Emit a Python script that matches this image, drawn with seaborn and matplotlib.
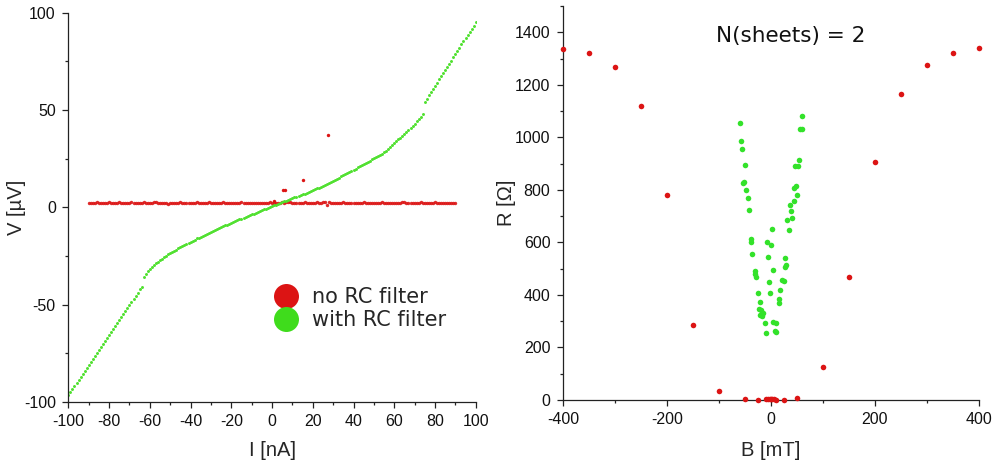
import matplotlib
matplotlib.use("Agg")
import matplotlib.pyplot as plt
from matplotlib.ticker import MultipleLocator
from matplotlib.lines import Line2D
import numpy as np
import seaborn as sns

# ---------------- I-V curves (left panel) ----------------
# current sweep for the filtered measurement, -100 .. 100 nA in 1 nA steps
current_rc = np.arange(-100, 101, 1)
voltage_rc = [
    -96.5, -95.0, -93.4, -91.9, -90.3, -88.8, -87.2, -85.6, -84.1, -82.6,
    -81.0, -79.5, -77.9, -76.4, -74.8, -73.2, -71.7, -70.2, -68.6, -67.0,
    -65.5, -64.0, -62.4, -60.9, -59.3, -57.8, -56.2, -54.6, -53.1, -51.5,
    -50.0, -48.5, -46.9, -45.3, -43.8, -42.2, -40.7, -35.8, -34.3, -32.9,
    -31.5, -30.6, -29.7, -28.8, -27.9, -27.0, -26.3, -25.6, -24.9, -24.2,
    -23.5, -22.9, -22.3, -21.7, -21.1, -20.5, -19.9, -19.3, -18.8, -18.2,
    -17.6, -17.1, -16.6, -16.0, -15.5, -15.0, -14.5, -14.0, -13.5, -13.0,
    -12.5, -12.0, -11.6, -11.1, -10.7, -10.2, -9.8, -9.3, -8.9, -8.4,
    -8.0, -7.6, -7.1, -6.7, -6.2, -5.8, -5.4, -4.9, -4.5, -4.0,
    -3.6, -3.2, -2.8, -2.3, -1.9, -1.5, -1.1, -0.7, -0.2, 0.2,
    0.6, 1.0, 1.4, 1.9, 2.3, 2.7, 3.1, 3.5, 3.9, 4.3,
    4.7, 5.1, 5.5, 5.9, 6.3, 6.7, 7.1, 7.5, 8.0, 8.4,
    8.8, 9.2, 9.7, 10.1, 10.5, 11.0, 11.5, 12.0, 12.5, 13.1,
    13.6, 14.2, 14.8, 15.3, 15.9, 16.5, 17.1, 17.6, 18.2, 18.7,
    19.3, 19.9, 20.5, 21.0, 21.6, 22.2, 22.8, 23.4, 24.0, 24.6,
    25.2, 25.8, 26.4, 26.9, 27.6, 28.3, 29.2, 30.1, 31.0, 32.0,
    33.0, 33.9, 34.9, 35.8, 36.8, 37.8, 38.8, 39.9, 40.9, 42.0,
    43.0, 44.2, 45.4, 46.6, 47.8, 54.3, 55.9, 57.5, 59.1, 60.8,
    62.5, 64.1, 65.7, 67.3, 68.9, 70.5, 72.1, 73.8, 75.4, 77.1,
    78.8, 80.4, 82.1, 83.7, 85.3, 86.9, 88.5, 90.1, 91.7, 93.3,
    95.0,
]

# current sweep without the filter, -90 .. 90 nA in 1 nA steps
current_raw = np.arange(-90, 91, 1)
voltage_raw = [
    2.3, 2.1, 2.4, 2.2, 2.5, 2.3, 2.0, 2.4, 2.2, 2.3,
    2.6, 2.2, 2.1, 2.4, 2.3, 2.5, 2.2, 2.0, 2.3, 2.4,
    2.2, 2.6, 2.3, 2.1, 2.4, 2.2, 2.3, 2.5, 2.1, 2.2,
    2.4, 2.3, 2.7, 2.5, 2.2, 2.1, 2.3, 2.4, 2.0, 1.9,
    2.2, 2.3, 2.1, 2.4, 2.2, 2.5, 2.3, 2.2, 2.4, 2.1,
    2.3, 2.2, 2.4, 2.6, 2.3, 2.1, 2.2, 2.4, 2.3, 2.5,
    2.2, 2.1, 2.3, 2.4, 2.2, 2.3, 2.5, 2.2, 2.0, 2.3,
    2.4, 2.2, 2.3, 2.1, 2.4, 2.5, 2.3, 2.2, 2.4, 2.1,
    2.3, 2.2, 2.4, 2.3, 2.1, 2.2, 2.4, 2.3, 2.2, 2.5,
    2.3, 2.1, 2.4, 2.2, 2.3, 2.6, 2.4, 2.7, 2.9, 2.5,
    2.3, 2.2, 2.4, 2.1, 2.3, 2.2, 2.5, 2.3, 2.1, 2.4,
    2.2, 2.3, 2.5, 2.2, 2.4, 2.6, 2.8, 1.2, 2.5, 2.3,
    2.2, 2.4, 2.1, 2.3, 2.2, 2.5, 2.3, 2.1, 2.4, 2.2,
    2.3, 2.4, 2.2, 2.1, 2.3, 2.5, 2.2, 2.4, 2.3, 2.1,
    2.2, 2.4, 2.3, 2.2, 2.5, 2.3, 2.1, 2.4, 2.2, 2.3,
    2.4, 2.2, 2.1, 2.3, 2.5, 2.6, 2.4, 2.2, 2.3, 2.1,
    2.2, 2.4, 2.3, 2.5, 2.2, 2.1, 2.3, 2.4, 2.2, 2.3,
    2.5, 2.2, 2.1, 2.4, 2.3, 2.2, 2.4, 2.3, 2.1, 2.2,
    2.3,
]
# isolated spikes in the unfiltered sweep
spike_current = [1.0, 5.5, 6.5, 15.0, 27.5]
spike_voltage = [3.5, 9.0, 8.7, 14.0, 37.0]

# ---------------- magnetoresistance (right panel) ----------------
field_raw = [-400, -350, -300, -250, -200, -150, -100, -50, -25, -10, -5, -2,
             0, 2, 5, 10, 25, 50, 100, 150, 200, 250, 300, 350, 400]
resist_raw = [1335, 1320, 1266, 1121, 780, 286, 34, 2, 1, 2, 3, 4,
              5, 3, 2, 1, 1, 7, 126, 470, 905, 1165, 1277, 1320, 1340]

field_rc = [
    -59.5, -57.6, -55.0, -50.0, -53.0, -51.2, -47.4, -43.5, -41.6, -39.0,
    -37.8, -35.8, -31.4, -30.0, -28.0, -25.0, -21.8, -23.7, -19.8, -21.0,
    -17.3, -15.4, -11.5, -10.0,
    2.0, -7.7, 0.0, -6.4, 3.8, -4.5, -2.0, 4.5, 9.6, 8.3, 10.0,
    59.0, 56.3, 59.5, 54.4, 46.0, 52.5, 47.4, 43.5, 50.0, 44.0,
    36.5, 38.4, 40.3, 31.4, 34.6, 26.2, 29.4, 27.5, 20.5, 24.3,
    17.9, 14.7, 16.0,
]
resist_rc = [
    1055, 986, 956, 893, 825, 830, 800, 769, 722, 602,
    613, 555, 490, 481, 468, 408, 374, 346, 342, 325,
    321, 333, 294, 256,
    652, 602, 589, 545, 494, 448, 407, 298, 293, 263, 258,
    1083, 1033, 1031, 915, 892, 892, 815, 806, 780, 759,
    742, 720, 694, 687, 649, 541, 513, 505, 458, 454,
    420, 384, 369,
]

RED = "#dc1414"
GREEN = "#3fdc1c"
GREEN_DOT = "#4fe02e"

sns.set_style("white")
plt.rcParams["font.family"] = ["Liberation Sans", "DejaVu Sans"]
plt.rcParams["axes.unicode_minus"] = False

fig = plt.figure(figsize=(9.95, 4.65), dpi=100)
ax1 = fig.add_axes([0.0687, 0.1355, 0.4094, 0.8372])
ax2 = fig.add_axes([0.5658, 0.1398, 0.4181, 0.8473])

# left panel
sns.scatterplot(x=current_raw, y=voltage_raw, ax=ax1, color=RED, s=6,
                linewidth=0, alpha=0.9)
sns.scatterplot(x=spike_current, y=spike_voltage, ax=ax1, color=RED, s=6,
                linewidth=0)
sns.scatterplot(x=current_rc, y=voltage_rc, ax=ax1, color=GREEN_DOT, s=4.5,
                linewidth=0)
ax1.set_xlim(-100, 100)
ax1.set_ylim(-100, 100)
ax1.xaxis.set_major_locator(MultipleLocator(20))
ax1.xaxis.set_minor_locator(MultipleLocator(10))
ax1.yaxis.set_major_locator(MultipleLocator(50))
ax1.yaxis.set_minor_locator(MultipleLocator(25))
ax1.set_xlabel("I [nA]", fontsize=14.5)
ax1.set_ylabel("V [\u00b5V]", fontsize=14.5)
ax1.xaxis.set_label_coords(0.5, -0.10)
ax1.yaxis.set_label_coords(-0.105, 0.5)

handles = [
    Line2D([], [], linestyle="none", marker="o", markersize=18,
           markerfacecolor=RED, markeredgewidth=0),
    Line2D([], [], linestyle="none", marker="o", markersize=18,
           markerfacecolor=GREEN, markeredgewidth=0),
]
ax1.legend(handles, ["no RC filter", "with RC filter"], loc="center left",
           bbox_to_anchor=(0.504, 0.240), frameon=False, handlelength=1.2,
           handletextpad=0.65, labelspacing=0.15, borderpad=0,
           borderaxespad=0, prop={"family": "DejaVu Sans", "size": 15})

# right panel
sns.scatterplot(x=field_raw, y=resist_raw, ax=ax2, color=RED, s=16,
                linewidth=0, clip_on=False, zorder=3)
sns.scatterplot(x=field_rc, y=resist_rc, ax=ax2, color="#33e22a", s=16,
                linewidth=0, zorder=3)
ax2.set_xlim(-400, 400)
ax2.set_ylim(0, 1500)
ax2.xaxis.set_major_locator(MultipleLocator(200))
ax2.xaxis.set_minor_locator(MultipleLocator(100))
ax2.yaxis.set_major_locator(MultipleLocator(200))
ax2.yaxis.set_minor_locator(MultipleLocator(100))
ax2.set_xlabel("B [mT]", fontsize=14.5)
ax2.set_ylabel("R [\u03a9]", fontsize=14.5)
ax2.xaxis.set_label_coords(0.5, -0.105)
ax2.yaxis.set_label_coords(-0.112, 0.5)
ax2.text(0.548, 0.924, "N(sheets) = 2", transform=ax2.transAxes,
         ha="center", va="center", fontsize=15.5, family="DejaVu Sans",
         color="#111111")

for ax in (ax1, ax2):
    for side in ("top", "right"):
        ax.spines[side].set_visible(False)
    for side in ("left", "bottom"):
        ax.spines[side].set_color("#222222")
        ax.spines[side].set_linewidth(0.9)
    ax.tick_params(which="major", direction="out", length=4.5, width=0.9,
                   color="#222222", labelsize=11.5, labelcolor="#111111",
                   bottom=True, left=True, pad=4.5)
    ax.tick_params(which="minor", direction="out", length=2.5, width=0.9,
                   color="#222222", bottom=True, left=True)
    ax.set_facecolor("white")

fig.savefig("out.png", dpi=100, facecolor="white")
